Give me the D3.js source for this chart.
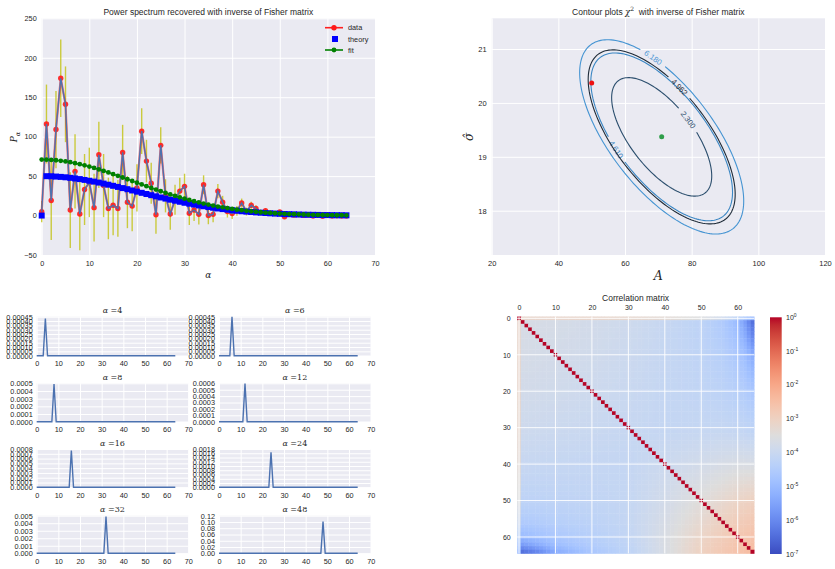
<!DOCTYPE html>
<html><head><meta charset="utf-8">
<script src="https://cdn.jsdelivr.net/npm/d3@7"></script>
<style>
body{margin:0;background:#fff;}
svg{display:block;font-family:"Liberation Sans",Arial,sans-serif;}
</style></head><body>
<svg id="fig" width="835" height="569"></svg>
<script>
// ---------- power spectrum (alpha = 0..64) ----------
const alphaIdx = d3.range(65);
const dataP = [5, 116, 19, 109, 174, 141, 7, 56, 2, 33, 42, 10, 77, 38, 9, 13, 9, 80, 17, 12,
  35, 107, 69, 41, 1, 89, 25, 2, 20, 31, 37, 3, 7, 1.5, 39, 0, 1.5, 31, 17, 5,
  2.5, 6, 16, 5, 13, 9, 4, 6, 3, 2.5, 4.5, -1.5, 1.5, 0.5, 1.2, 0.2, 0.8, -0.5, 0.6, -0.8,
  0.3, -0.6, -0.4, -0.7, -0.5];
const dataErr = [13.5, 50, 50, 49, 49, 48, 48, 47, 46, 45, 44, 43, 42, 40, 39, 38, 36, 35, 33, 32,
  30, 29, 27, 26, 24, 23, 21, 20, 19, 17, 16, 15, 14, 13, 12, 11, 10, 9, 8, 7.5,
  6.8, 6.1, 5.5, 5, 4.5, 4, 3.5, 3.2, 2.8, 2.5, 2.2, 1.9, 1.7, 1.5, 1.3, 1.1, 1, 0.9, 0.7, 0.6,
  0.6, 0.5, 0.4, 0.4, 0.3];
const theoryP = [0, 49.9, 49.8, 49.4, 49.0, 48.5, 47.8, 47.0, 46.2, 45.2, 44.1, 43.0, 41.8, 40.5, 39.1, 37.7, 36.3, 34.8, 33.4, 31.8,
  30.3, 28.8, 27.3, 25.8, 24.3, 22.9, 21.5, 20.1, 18.8, 17.5, 16.2, 15.0, 13.9, 12.8, 11.8, 10.8, 9.9, 9.0, 8.2, 7.5,
  6.8, 6.1, 5.5, 5.0, 4.5, 4.0, 3.6, 3.2, 2.8, 2.5, 2.2, 1.9, 1.7, 1.5, 1.3, 1.1, 1.0, 0.9, 0.8, 0.6,
  0.6, 0.5, 0.4, 0.4, 0.3];
const fitP = [70.9, 70.8, 70.5, 70.1, 69.4, 68.6, 67.6, 66.4, 65.1, 63.6, 62.1, 60.3, 58.5, 56.6, 54.6, 52.5, 50.4, 48.2, 46.0, 43.8,
  41.6, 39.4, 37.2, 35.0, 32.9, 30.8, 28.8, 26.8, 24.9, 23.1, 21.4, 19.7, 18.1, 16.6, 15.2, 13.9, 12.6, 11.4, 10.4, 9.3,
  8.4, 7.5, 6.8, 6.0, 5.4, 4.8, 4.2, 3.7, 3.3, 2.9, 2.5, 2.2, 1.9, 1.7, 1.5, 1.3, 1.1, 0.9, 0.8, 0.7,
  0.6, 0.5, 0.4, 0.4, 0.3];
const specXTicks = [0, 10, 20, 30, 40, 50, 60, 70];
const specYTicks = [-50, 0, 50, 100, 150, 200, 250];

// ---------- chi^2 contours in (A, sigma) ----------
const fitCentre = [71.0, 19.37];       // best fit (A, sigma)
const truePoint = [50.0, 20.37];       // reference point
const paramSigma = [9.9, 0.725];       // marginal errors from inverse Fisher matrix
const paramRho = -0.66;                // correlation between A and sigma
const chi2Levels = [2.300, 4.610, 4.962, 6.180];
const chi2Labels = ["2.300", "4.610", "4.962", "6.180"];
const chi2Colors = ["#2b4e6d", "#3a86c3", "#1e2b38", "#4594d2"];
const chi2LabelAt = [[78.5, 19.68], [57.4, 19.13], [75.5, 20.24], [67.5, 20.74]];
const contXTicks = [20, 40, 60, 80, 100, 120];
const contYTicks = [18, 19, 20, 21];

// ---------- window functions (rows of the inverse Fisher matrix) ----------
const kernelAlpha = [4, 6, 8, 12, 16, 24, 32, 48];
const kernelPeak = [0.00043, 0.000449, 0.00049, 0.000598, 0.00077, 0.00164, 0.0049, 0.101];
const kernelTickStep = [0.00005, 0.00005, 0.0001, 0.0001, 0.0001, 0.0002, 0.001, 0.02];
const kernelTickCount = [10, 10, 6, 7, 9, 10, 6, 7];
const kernelDecimals = [5, 5, 4, 4, 4, 4, 3, 2];
const kernelXTicks = [0, 10, 20, 30, 40, 50, 60, 70];

// ---------- correlation matrix (log10 of off-diagonal values at knot indices) ----------
const corrKnots = [0, 1, 5, 10, 20, 30, 40, 50, 56, 60, 62, 64];
const corrLogKnots = [
  [-3.2, -3.2, -3.2, -3.2, -3.2, -3.25, -3.35, -3.55, -3.9, -4.3, -4.6, -4.9],
  [-3.2, -3.7, -3.7, -3.72, -3.8, -3.9, -4.05, -4.25, -4.55, -5.0, -5.6, -6.4],
  [-3.2, -3.7, -3.72, -3.75, -3.82, -3.92, -4.07, -4.25, -4.5, -4.85, -5.3, -6.0],
  [-3.2, -3.72, -3.75, -3.78, -3.85, -3.95, -4.08, -4.22, -4.4, -4.65, -4.9, -5.3],
  [-3.2, -3.8, -3.82, -3.85, -3.92, -4.0, -4.1, -4.18, -4.28, -4.4, -4.5, -4.65],
  [-3.25, -3.9, -3.92, -3.95, -4.0, -4.05, -4.1, -4.1, -4.1, -4.15, -4.2, -4.25],
  [-3.35, -4.05, -4.07, -4.08, -4.1, -4.1, -3.95, -3.8, -3.7, -3.65, -3.65, -3.65],
  [-3.55, -4.25, -4.25, -4.22, -4.18, -4.1, -3.8, -3.45, -3.25, -3.1, -3.05, -3.0],
  [-3.9, -4.55, -4.5, -4.4, -4.28, -4.1, -3.7, -3.25, -3.0, -2.85, -2.8, -2.75],
  [-4.3, -5.0, -4.85, -4.65, -4.4, -4.15, -3.65, -3.1, -2.85, -2.7, -2.65, -2.6],
  [-4.6, -5.6, -5.3, -4.9, -4.5, -4.2, -3.65, -3.05, -2.8, -2.65, -2.55, -2.5],
  [-4.9, -6.4, -6.0, -5.3, -4.65, -4.25, -3.65, -3.0, -2.75, -2.6, -2.5, -2.45]
];
const corrTicks = [0, 10, 20, 30, 40, 50, 60];
const cbarExponents = [0, -1, -2, -3, -4, -5, -6, -7];

// coolwarm colour map (33 anchors)
const coolwarmRGB = [[59,76,192],[68,90,204],[77,104,215],[87,117,225],[98,130,234],[108,142,241],[119,154,247],
  [130,165,251],[141,176,254],[152,185,255],[163,194,255],[174,201,253],[184,208,249],[194,213,244],[204,217,238],
  [213,219,230],[221,221,221],[229,216,209],[236,211,197],[241,204,185],[245,196,173],[247,187,160],[247,177,148],
  [247,166,135],[244,154,123],[241,141,111],[236,127,99],[229,112,88],[222,96,77],[213,80,66],[203,62,56],
  [192,40,47],[180,4,38]];
const coolwarm = d3.piecewise(d3.interpolateRgb, coolwarmRGB.map(c => d3.rgb(c[0], c[1], c[2])));

const BG = "#EAEAF2", TXT = "#262626";
const svg = d3.select("#fig");
const defs = svg.append("defs");

// darkgrid axes: background, white grid, tick labels
function darkAxes(g, xs, ys, xTicks, yTicks, o) {
  const [x0, x1] = xs.range(), [y0, y1] = ys.range();
  g.append("rect").attr("x", x0).attr("y", y1).attr("width", x1 - x0).attr("height", y0 - y1).attr("fill", BG);
  const gx = g.append("g").attr("transform", `translate(0,${y0})`)
    .call(d3.axisBottom(xs).tickValues(xTicks).tickSize(-(y0 - y1)).tickPadding(o.xPad).tickFormat(o.xFmt || d3.format("d")));
  const gy = g.append("g").attr("transform", `translate(${x0},0)`)
    .call(d3.axisLeft(ys).tickValues(yTicks).tickSize(-(x1 - x0)).tickPadding(o.yPad).tickFormat(o.yFmt || d3.format("d")));
  [gx, gy].forEach(a => {
    a.select(".domain").remove();
    a.selectAll("line").attr("stroke", "#fff").attr("stroke-width", 1);
    a.selectAll("text").attr("fill", TXT).style("font-size", o.fs + "px").style("font-family", '"Liberation Sans", Arial, sans-serif');
  });
}

// ================= power spectrum panel =================
{
  const g = svg.append("g");
  const xs = d3.scaleLinear([0, 70], [41.7, 375]);
  const ys = d3.scaleLinear([-50, 250], [255, 18.3]);
  darkAxes(g, xs, ys, specXTicks, specYTicks, {xPad: 5.5, yPad: 5, fs: 7.3});

  // error bars
  g.append("g").selectAll("line").data(alphaIdx).join("line")
    .attr("x1", i => xs(i)).attr("x2", i => xs(i))
    .attr("y1", i => ys(dataP[i] - dataErr[i])).attr("y2", i => ys(dataP[i] + dataErr[i]))
    .attr("stroke", "#bfbf00").attr("stroke-opacity", 0.75).attr("stroke-width", 1.4);

  const line = d3.line().x(i => xs(i)).y(i => ys(dataP[i]));
  g.append("path").attr("d", line(alphaIdx)).attr("fill", "none").attr("stroke", "#ff2020").attr("stroke-opacity", 0.6).attr("stroke-width", 2.2);
  g.append("g").selectAll("circle").data(alphaIdx).join("circle")
    .attr("cx", i => xs(i)).attr("cy", i => ys(dataP[i])).attr("r", 2.7)
    .attr("fill", "#ff1a1a").attr("fill-opacity", 0.9);
  g.append("path").attr("d", line(alphaIdx)).attr("fill", "none").attr("stroke", "#4C72B0").attr("stroke-width", 1.4);

  // theory squares
  g.append("g").selectAll("rect").data(alphaIdx).join("rect")
    .attr("x", i => xs(i) - 3).attr("y", i => ys(theoryP[i]) - 3).attr("width", 6).attr("height", 6)
    .attr("fill", "#0000ff");

  // fit
  g.append("path").attr("d", d3.line().x(i => xs(i)).y(i => ys(fitP[i]))(alphaIdx))
    .attr("fill", "none").attr("stroke", "#008000").attr("stroke-width", 1.3);
  g.append("g").selectAll("circle").data(alphaIdx).join("circle")
    .attr("cx", i => xs(i)).attr("cy", i => ys(fitP[i])).attr("r", 2.4).attr("fill", "#008000");

  // legend
  const lg = g.append("g").style("font-size", "7.3px").attr("fill", TXT);
  lg.append("line").attr("x1", 325).attr("x2", 343).attr("y1", 27.7).attr("y2", 27.7).attr("stroke", "#ff2020").attr("stroke-width", 1.6);
  lg.append("circle").attr("cx", 334).attr("cy", 27.7).attr("r", 2.7).attr("fill", "#ff1a1a");
  lg.append("text").attr("x", 348).attr("y", 30.3).text("data");
  lg.append("rect").attr("x", 332).attr("y", 36).attr("width", 6).attr("height", 6).attr("fill", "#0000ff");
  lg.append("text").attr("x", 348).attr("y", 41.6).text("theory");
  lg.append("line").attr("x1", 325).attr("x2", 343).attr("y1", 50).attr("y2", 50).attr("stroke", "#008000").attr("stroke-width", 1.6);
  lg.append("circle").attr("cx", 334).attr("cy", 50).attr("r", 2.4).attr("fill", "#008000");
  lg.append("text").attr("x", 348).attr("y", 52.6).text("fit");

  g.append("text").attr("x", 208.3).attr("y", 14.5).attr("text-anchor", "middle").style("font-size", "8.5px").attr("fill", TXT)
    .text("Power spectrum recovered with inverse of Fisher matrix");
  const yl = g.append("text").attr("transform", "translate(17,137) rotate(-90)").attr("text-anchor", "middle")
    .style("font-family", '"DejaVu Serif", serif').style("font-size", "9px").attr("fill", TXT);
  yl.append("tspan").style("font-style", "italic").text("P");
  yl.append("tspan").attr("dy", 2.5).style("font-size", "6.5px").style("font-style", "italic").text("α");
  g.append("text").attr("x", 208.3).attr("y", 277.5).attr("text-anchor", "middle")
    .style("font-family", '"DejaVu Serif", serif').style("font-style", "italic").style("font-size", "9px").attr("fill", TXT).text("α");
}

// ================= chi^2 contour panel =================
{
  const g = svg.append("g");
  const xs = d3.scaleLinear([20, 120], [491.7, 825]);
  const ys = d3.scaleLinear([17.178, 21.57], [255, 18.3]);
  darkAxes(g, xs, ys, contXTicks, contYTicks, {xPad: 5.5, yPad: 5, fs: 7.5});

  const [sA, sS] = paramSigma, r = paramRho;
  const thetas = d3.range(0, 361, 2).map(d => d * Math.PI / 180);
  chi2Levels.forEach((k, li) => {
    const pts = thetas.map(t => {
      const u1 = Math.sqrt(k) * Math.cos(t), u2 = Math.sqrt(k) * Math.sin(t);
      return [xs(fitCentre[0] + sA * u1), ys(fitCentre[1] + sS * (r * u1 + Math.sqrt(1 - r * r) * u2))];
    });
    // label position: closest point to the requested anchor
    const target = [xs(chi2LabelAt[li][0]), ys(chi2LabelAt[li][1])];
    let best = 0, bd = 1e9;
    pts.forEach((p, i) => { const d = (p[0] - target[0]) ** 2 + (p[1] - target[1]) ** 2; if (d < bd) { bd = d; best = i; } });
    const p = pts[best], pa = pts[Math.max(best - 1, 0)], pb = pts[Math.min(best + 1, pts.length - 1)];
    let ang = Math.atan2(pb[1] - pa[1], pb[0] - pa[0]) * 180 / Math.PI;
    if (ang > 90) ang -= 180; if (ang < -90) ang += 180;
    const mid = "cmask" + li;
    const m = defs.append("mask").attr("id", mid).attr("maskUnits", "userSpaceOnUse")
      .attr("x", 0).attr("y", 0).attr("width", 835).attr("height", 569);
    m.append("rect").attr("x", 0).attr("y", 0).attr("width", 835).attr("height", 569).attr("fill", "#fff");
    m.append("rect").attr("x", -15).attr("y", -4).attr("width", 30).attr("height", 8).attr("fill", "#000")
      .attr("transform", `translate(${p[0]},${p[1]}) rotate(${ang})`);
    g.append("path").attr("d", d3.line().curve(d3.curveLinearClosed)(pts)).attr("fill", "none")
      .attr("stroke", chi2Colors[li]).attr("stroke-width", 1.1).attr("mask", `url(#${mid})`);
    g.append("text").attr("transform", `translate(${p[0]},${p[1]}) rotate(${ang})`)
      .attr("text-anchor", "middle").attr("dy", "0.35em").style("font-size", "7.8px")
      .attr("fill", chi2Colors[li]).text(chi2Labels[li]);
  });
  g.append("circle").attr("cx", xs(truePoint[0])).attr("cy", ys(truePoint[1])).attr("r", 2.5).attr("fill", "#ee1111");
  g.append("circle").attr("cx", xs(fitCentre[0])).attr("cy", ys(fitCentre[1])).attr("r", 2.5).attr("fill", "#2f9e4a");

  const t = g.append("text").attr("x", 658.3).attr("y", 14.5).attr("text-anchor", "middle").style("font-size", "8.5px")
    .style("white-space", "pre").attr("fill", TXT);
  t.append("tspan").text("Contour plots ");
  t.append("tspan").style("font-family", '"DejaVu Serif", serif').style("font-style", "italic").text("χ");
  t.append("tspan").attr("dy", -3.5).style("font-size", "6px").style("font-family", '"DejaVu Serif", serif').text("2");
  t.append("tspan").attr("dy", 3.5).text("\u00a0 with inverse of Fisher matrix");
  g.append("text").attr("transform", "translate(473,137) rotate(-90)").attr("text-anchor", "middle")
    .style("font-family", '"DejaVu Serif", serif').style("font-style", "italic").style("font-size", "12px").attr("fill", TXT).text("σ̂");
  g.append("text").attr("x", 658.3).attr("y", 280).attr("text-anchor", "middle")
    .style("font-family", '"DejaVu Serif", serif').style("font-style", "italic").style("font-size", "12.5px").attr("fill", TXT).text("A");
}

// ================= window function panels =================
{
  const colX = [[36.7, 188.3], [219, 370.7]];
  const rowY = [[316.7, 355.7], [383.3, 421.7], [449, 487.3], [515.7, 553.3]];
  kernelAlpha.forEach((k, i) => {
    const c = i % 2, rw = Math.floor(i / 2);
    const g = svg.append("g");
    const top = kernelTickStep[i] * (kernelTickCount[i] - 1);
    const xs = d3.scaleLinear([0, 70], colX[c]);
    const ys = d3.scaleLinear([0, top], [rowY[rw][1], rowY[rw][0]]);
    const yTicks = d3.range(kernelTickCount[i]).map(j => j * kernelTickStep[i]);
    darkAxes(g, xs, ys, kernelXTicks, yTicks, {xPad: 5.5, yPad: 4, fs: 7.3, yFmt: d3.format("." + kernelDecimals[i] + "f")});
    g.append("path").attr("d", d3.line().x(a => xs(a)).y(a => ys(a === k ? kernelPeak[i] : 0))(alphaIdx))
      .attr("fill", "none").attr("stroke", "#4C72B0").attr("stroke-width", 1.4);
    const tt = g.append("text").attr("x", (colX[c][0] + colX[c][1]) / 2).attr("y", rowY[rw][0] - 3.5)
      .attr("text-anchor", "middle").style("font-family", '"DejaVu Serif", serif').style("font-size", "8px").attr("fill", TXT);
    tt.append("tspan").style("font-style", "italic").text("α");
    tt.append("tspan").text(" =" + k);
  });
}

// ================= correlation matrix =================
{
  const g = svg.append("g");
  const xs = d3.scaleLinear([-0.5, 64.5], [517.2, 754.1]);
  const ys = d3.scaleLinear([-0.5, 64.5], [316.5, 553.4]);
  const cw = xs(1) - xs(0);
  function knotPos(i) {
    let s = 0;
    while (s < corrKnots.length - 2 && i > corrKnots[s + 1]) s++;
    return [s, (i - corrKnots[s]) / (corrKnots[s + 1] - corrKnots[s])];
  }
  function corrLog(i, j) {
    if (i === j) return 0;
    const [a, fa] = knotPos(i), [b, fb] = knotPos(j), M = corrLogKnots;
    return (1 - fa) * (1 - fb) * M[a][b] + fa * (1 - fb) * M[a + 1][b] + (1 - fa) * fb * M[a][b + 1] + fa * fb * M[a + 1][b + 1];
  }
  const color = v => coolwarm(Math.max(0, Math.min(1, (v + 7) / 7)));
  const cells = [];
  alphaIdx.forEach(i => alphaIdx.forEach(j => cells.push([i, j])));
  g.append("g").selectAll("rect").data(cells).join("rect")
    .attr("x", d => xs(d[1] - 0.5)).attr("y", d => ys(d[0] - 0.5))
    .attr("width", cw + 0.4).attr("height", cw + 0.4)
    .attr("fill", d => color(corrLog(d[0], d[1])));
  // white grid over the image
  const grid = g.append("g").attr("stroke", "#fff").attr("stroke-width", 1).attr("stroke-opacity", 0.9);
  corrTicks.forEach(t => {
    grid.append("line").attr("x1", xs(t)).attr("x2", xs(t)).attr("y1", ys(-0.5)).attr("y2", ys(64.5));
    grid.append("line").attr("y1", ys(t)).attr("y2", ys(t)).attr("x1", xs(-0.5)).attr("x2", xs(64.5));
  });
  const ax = g.append("g").attr("transform", `translate(0,${ys(-0.5)})`)
    .call(d3.axisTop(xs).tickValues(corrTicks).tickSize(0).tickPadding(6.5));
  const ay = g.append("g").attr("transform", `translate(${xs(-0.5)},0)`)
    .call(d3.axisLeft(ys).tickValues(corrTicks).tickSize(0).tickPadding(6.5));
  [ax, ay].forEach(a => {
    a.select(".domain").remove();
    a.selectAll("text").attr("fill", TXT).style("font-size", "7px").style("font-family", '"Liberation Sans", Arial, sans-serif');
  });
  g.append("text").attr("x", 635.6).attr("y", 301).attr("text-anchor", "middle").style("font-size", "8.5px").attr("fill", TXT)
    .text("Correlation matrix");

  // colour bar
  const grad = defs.append("linearGradient").attr("id", "cbar").attr("x1", 0).attr("y1", 1).attr("x2", 0).attr("y2", 0);
  coolwarmRGB.forEach((c, i) => grad.append("stop").attr("offset", i / (coolwarmRGB.length - 1)).attr("stop-color", `rgb(${c})`));
  const cy = d3.scaleLinear([-7, 0], [554, 317.3]);
  g.append("rect").attr("x", 770).attr("y", cy(0)).attr("width", 11.7).attr("height", cy(-7) - cy(0)).attr("fill", "url(#cbar)");
  cbarExponents.forEach(e => {
    const t = g.append("text").attr("x", 786).attr("y", cy(e) + 2.5).style("font-size", "7px").attr("fill", TXT);
    t.append("tspan").text("10");
    t.append("tspan").attr("dy", -3).style("font-size", "5px").text(String(e));
  });
}
</script>
</body></html>
